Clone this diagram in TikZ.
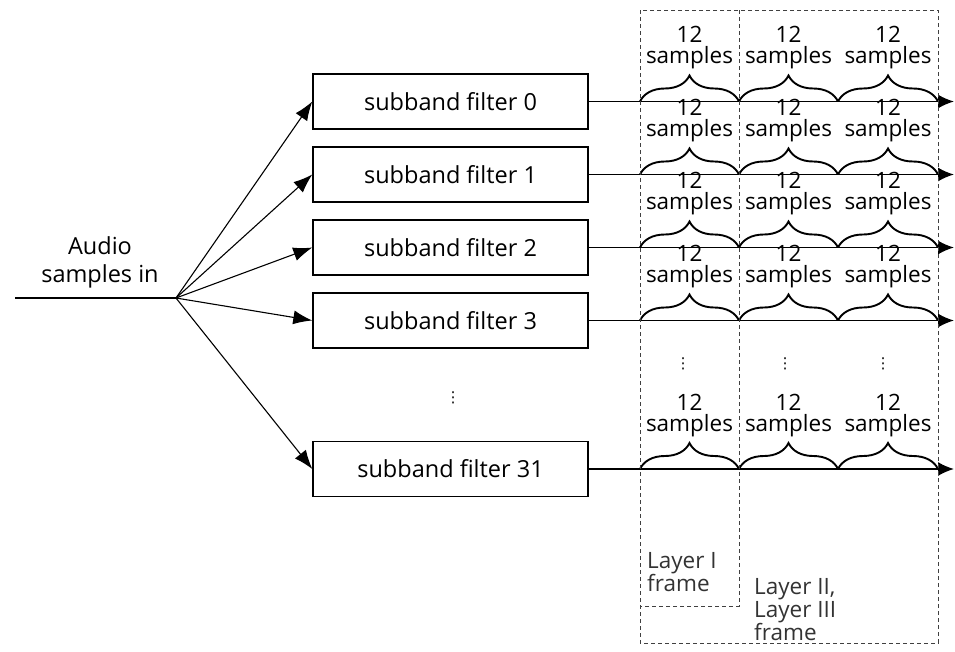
\documentclass[tikz,border=0pt]{standalone}
\usepackage{fontspec}
\setmainfont{Open Sans}
\newfontfamily\dotsfont{DejaVu Sans}
\usetikzlibrary{arrows.meta,decorations.pathreplacing,calc}
\tikzset{
  fbox/.style={draw,line width=1.4pt,minimum width=275pt,minimum height=55pt,inner sep=0pt,font=\fontsize{23.5}{26}\selectfont},
  arr/.style={line width=1.1pt,-{Latex[length=19pt,width=14pt]}},
  outarr/.style={line width=1.7pt,-{Latex[length=16pt,width=14pt]}},
  brc/.style={line width=1.9pt,decorate,decoration={brace,amplitude=26pt,aspect=0.5}},
  lbl/.style={align=center,inner sep=0pt,font=\fontsize{22.5}{21}\selectfont},
  frm/.style={line width=0.9pt,dash pattern=on 4pt off 3pt,black!75},
  ftxt/.style={align=left,inner sep=0pt,anchor=west,font=\fontsize{22.5}{23}\selectfont,black!80},
  dotsn/.style={inner sep=0pt,font=\dotsfont\fontsize{15}{15}\selectfont}
}
\begin{document}
\begin{tikzpicture}[x=1pt,y=-1pt]
\useasboundingbox (0,0) rectangle (955,651);
% input
\coordinate (in) at (15,298);
\coordinate (fan) at (176,298);
\draw[line width=1.6pt] (in) -- (fan);
\node[align=center,inner sep=0pt,anchor=south,font=\fontsize{23.5}{28}\selectfont] (audio) at (100,288) {Audio\\samples in};
% filter boxes
\node[fbox] (f0) at (450.5,101.5) {subband filter 0};
\node[fbox] (f1) at (450.5,174.5) {subband filter 1};
\node[fbox] (f2) at (450.5,247.5) {subband filter 2};
\node[fbox] (f3) at (450.5,320.5) {subband filter 3};
\node[fbox] (f31) at (450.5,469) {subband filter 31};
\node[dotsn] (ldots) at (453,398) {⋮};
\foreach \r in {0,1,2,3,31}{
  \draw[arr] (fan) -- (f\r.west);
}
% output lines
\foreach \r in {0,1,2,3,31}{
  \coordinate (e\r) at (954,0 |- f\r.east);
  \draw[outarr] (f\r.east) -- (e\r);
}
% braces and labels
\foreach \r in {0,1,2,3,31}{
  \foreach \c/\xa/\xb in {a/640/739,b/739/838,c/838/938}{
    \coordinate (s\r\c) at (\xa,0 |- f\r.east);
    \coordinate (t\r\c) at (\xb,0 |- f\r.east);
    \draw[brc] (s\r\c) -- (t\r\c);
    \node[lbl,anchor=south] (l\r\c) at ($(s\r\c)!0.5!(t\r\c)+(0,-32)$) {12\\samples};
  }
}
% dots in frame
\node[dotsn] (d1) at (683,364) {⋮};
\node[dotsn] (d2) at (785,364) {⋮};
\node[dotsn] (d3) at (883,364) {⋮};
% frames
\coordinate (fa) at (640,10);
\coordinate (fb) at (938,643);
\coordinate (fc) at (739,10);
\coordinate (fd) at (739,606);
\coordinate (fe) at (640,606);
\draw[frm] (fa) rectangle (fb);
\draw[frm] (fc) -- (fd) -- (fe);
\node[ftxt] (lay1) at (647,572) {Layer I\\frame};
\node[ftxt] (lay2) at (754,610) {Layer II,\\Layer III\\frame};
\end{tikzpicture}
\end{document}
